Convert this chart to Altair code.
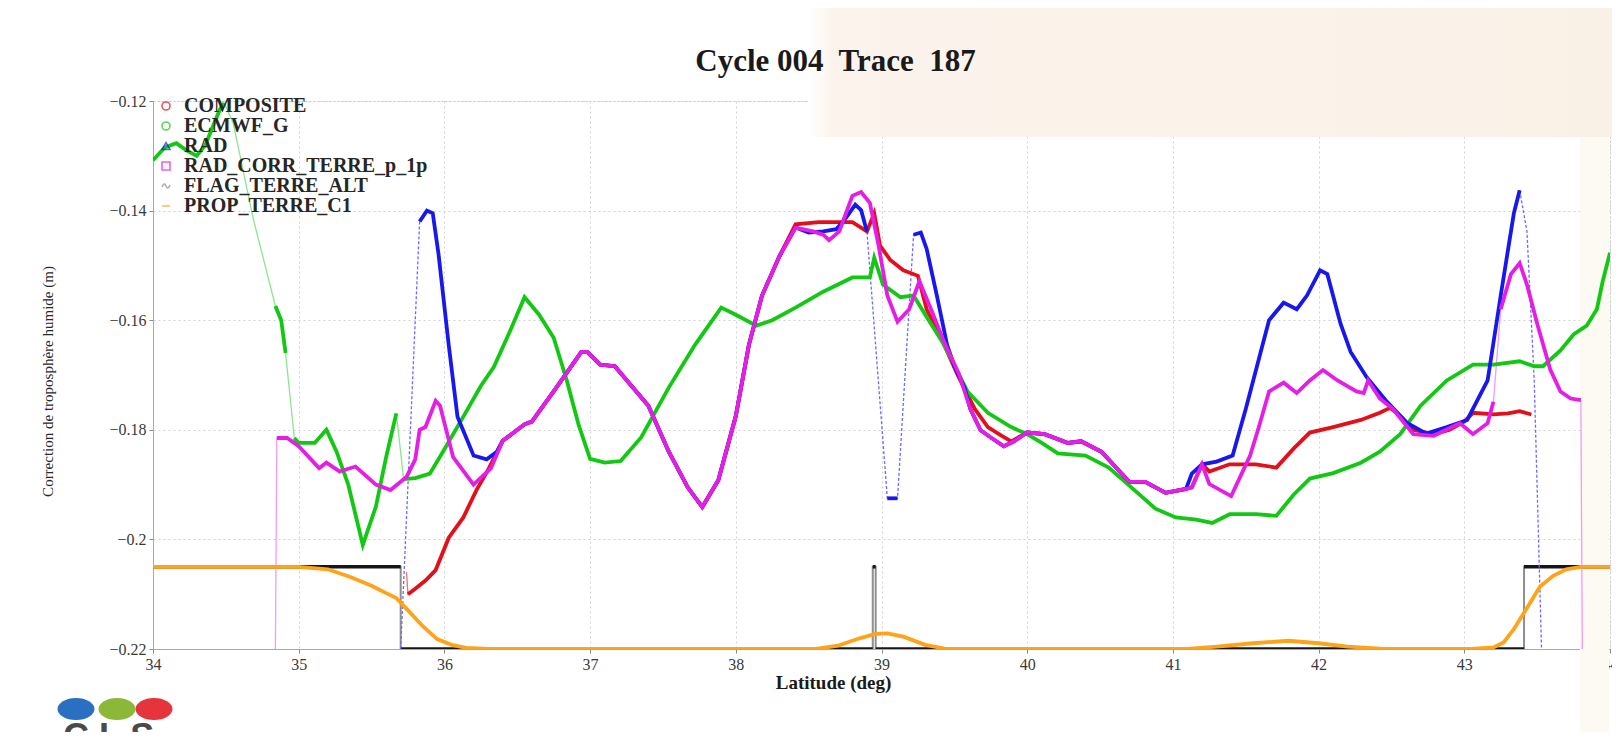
import altair as alt
import pandas as pd

TITLE = "Cycle 004\u00a0 Trace\u00a0 187"
X_TITLE = "Latitude (deg)"
Y_TITLE = "Correction de troposphère humide (m)"
SERIES = ["COMPOSITE", "ECMWF_G", "RAD", "RAD_CORR_TERRE_p_1p", "FLAG_TERRE_ALT", "PROP_TERRE_C1"]
COLORS = ["#e3101c", "#12c812", "#1818ee", "#e41ee4", "#8c8c8c", "#ffa31a"]
THIN = {"COMPOSITE": "#f07070", "ECMWF_G": "#8fe48f", "RAD": "#6a6aff", "RAD_CORR_TERRE_p_1p": "#f59af5"}
SHAPES = ["circle", "circle", "triangle-up", "square",
          "M-1,0.25 C-0.6,-0.7 -0.3,-0.7 0,0 C0.3,0.7 0.6,0.7 1,-0.25", "stroke"]
X_TICKS = list(range(34, 45))
Y_TICKS = [-0.22, -0.20, -0.18, -0.16, -0.14, -0.12]

# (latitude, value in m)
COMPOSITE = [(35.74, -0.2060), (35.75, -0.2100), (35.80, -0.2090), (35.87, -0.2075), (35.94, -0.2056),
             (36.03, -0.1997), (36.13, -0.1960), (36.22, -0.1910), (36.30, -0.1873), (36.40, -0.1820),
             (36.55, -0.1790), (36.60, -0.1785), (36.75, -0.1730), (36.94, -0.1658), (36.98, -0.1658),
             (37.07, -0.1681), (37.17, -0.1684), (37.40, -0.1756), (37.54, -0.1840), (37.67, -0.1905),
             (37.77, -0.1941), (37.88, -0.1892), (38.00, -0.1775), (38.09, -0.1645), (38.18, -0.1555),
             (38.30, -0.1483), (38.41, -0.1425), (38.57, -0.1421), (38.80, -0.1421), (38.90, -0.1438),
             (38.95, -0.1405), (38.99, -0.1464), (39.06, -0.1490), (39.15, -0.1509), (39.25, -0.1519),
             (39.31, -0.1580), (39.43, -0.1645), (39.53, -0.1704), (39.64, -0.1762), (39.73, -0.1795),
             (39.82, -0.1810), (39.89, -0.1821), (40.00, -0.1805), (40.12, -0.1808), (40.28, -0.1824),
             (40.37, -0.1821), (40.51, -0.1840), (40.60, -0.1866), (40.70, -0.1895), (40.81, -0.1895),
             (40.95, -0.1915), (41.09, -0.1908), (41.13, -0.1905), (41.20, -0.1863), (41.25, -0.1876),
             (41.39, -0.1863), (41.57, -0.1863), (41.71, -0.1869), (41.83, -0.1834), (41.94, -0.1805),
             (42.10, -0.1795), (42.29, -0.1782), (42.42, -0.1769), (42.49, -0.1760), (42.56, -0.1775),
             (42.65, -0.1800), (42.79, -0.1808), (42.90, -0.1800), (43.00, -0.1785), (43.06, -0.1769),
             (43.20, -0.1772), (43.30, -0.1770), (43.38, -0.1766), (43.46, -0.1772)]
COMPOSITE_THIN = [35.74]

ECMWF_G = [(34.00, -0.1308), (34.08, -0.1285), (34.16, -0.1277), (34.23, -0.1290), (34.30, -0.1300),
           (34.36, -0.1280), (34.41, -0.1247), (34.46, -0.1215), (34.49, -0.1204), (34.55, -0.1240),
           (34.69, -0.1417), (34.84, -0.1574), (34.88, -0.1600), (34.91, -0.1660), (34.97, -0.1815),
           (35.00, -0.1824), (35.11, -0.1824), (35.19, -0.1800), (35.26, -0.1840), (35.34, -0.1900),
           (35.44, -0.2010), (35.53, -0.1940), (35.60, -0.1850), (35.67, -0.1770), (35.72, -0.1890),
           (35.80, -0.1888), (35.90, -0.1880), (35.99, -0.1840), (36.13, -0.1776), (36.25, -0.1720),
           (36.34, -0.1685), (36.45, -0.1620), (36.55, -0.1558), (36.65, -0.1590), (36.75, -0.1632),
           (36.84, -0.1710), (36.92, -0.1790), (37.00, -0.1853), (37.10, -0.1860), (37.21, -0.1857),
           (37.35, -0.1814), (37.54, -0.1723), (37.72, -0.1645), (37.90, -0.1577), (38.00, -0.1590),
           (38.14, -0.1610), (38.25, -0.1600), (38.41, -0.1577), (38.60, -0.1548), (38.80, -0.1522),
           (38.92, -0.1522), (38.95, -0.1486), (39.01, -0.1535), (39.13, -0.1558), (39.22, -0.1555),
           (39.31, -0.1594), (39.43, -0.1645), (39.59, -0.1730), (39.73, -0.1769), (39.89, -0.1795),
           (40.00, -0.1808), (40.10, -0.1824), (40.21, -0.1843), (40.40, -0.1847), (40.56, -0.1869),
           (40.74, -0.1911), (40.88, -0.1944), (41.02, -0.1960), (41.16, -0.1964), (41.27, -0.1970),
           (41.39, -0.1954), (41.57, -0.1954), (41.71, -0.1957), (41.83, -0.1918), (41.94, -0.1889),
           (42.10, -0.1879), (42.29, -0.1860), (42.42, -0.1840), (42.56, -0.1808), (42.70, -0.1756),
           (42.88, -0.1710), (43.06, -0.1681), (43.20, -0.1681), (43.38, -0.1675), (43.48, -0.1684),
           (43.54, -0.1684), (43.66, -0.1655), (43.75, -0.1626), (43.84, -0.1610), (43.91, -0.1580),
           (43.95, -0.1529), (44.00, -0.1477)]
ECMWF_G_THIN = [34.49, 34.55, 34.69, 34.91, 35.67]

RAD = [(35.70, -0.2200), (35.83, -0.1420), (35.88, -0.1400), (35.92, -0.1405), (35.96, -0.1480),
       (36.03, -0.1646), (36.09, -0.1776), (36.20, -0.1847), (36.29, -0.1854), (36.36, -0.1840),
       (36.40, -0.1820), (36.55, -0.1790), (36.60, -0.1785), (36.75, -0.1730), (36.94, -0.1658),
       (36.98, -0.1658), (37.07, -0.1681), (37.17, -0.1684), (37.40, -0.1756), (37.54, -0.1840),
       (37.67, -0.1905), (37.77, -0.1941), (37.88, -0.1892), (38.00, -0.1775), (38.09, -0.1645),
       (38.18, -0.1555), (38.30, -0.1483), (38.41, -0.1431), (38.50, -0.1440), (38.60, -0.1438),
       (38.69, -0.1434), (38.76, -0.1412), (38.82, -0.1389), (38.86, -0.1399), (38.90, -0.1438),
       (39.04, -0.1925), (39.11, -0.1925), (39.22, -0.1444), (39.27, -0.1440), (39.31, -0.1470),
       (39.38, -0.1555), (39.45, -0.1645), (39.50, -0.1684), (39.57, -0.1723), (39.61, -0.1762),
       (39.68, -0.1801), (39.75, -0.1814), (39.84, -0.1830), (39.91, -0.1821), (40.00, -0.1805),
       (40.12, -0.1808), (40.28, -0.1824), (40.37, -0.1821), (40.51, -0.1840), (40.60, -0.1866),
       (40.70, -0.1895), (40.81, -0.1895), (40.95, -0.1915), (41.09, -0.1908), (41.13, -0.1880),
       (41.20, -0.1863), (41.30, -0.1858), (41.41, -0.1847), (41.50, -0.1762), (41.59, -0.1671),
       (41.66, -0.1600), (41.76, -0.1568), (41.85, -0.1580), (41.92, -0.1555), (42.01, -0.1509),
       (42.06, -0.1516), (42.15, -0.1606), (42.22, -0.1658), (42.33, -0.1704), (42.47, -0.1749),
       (42.61, -0.1788), (42.74, -0.1807), (42.88, -0.1795), (43.02, -0.1782), (43.16, -0.1710),
       (43.25, -0.1555), (43.34, -0.1405), (43.38, -0.1363), (43.43, -0.1438), (43.48, -0.1710),
       (43.53, -0.2200)]
RAD_THIN = [35.70, 38.90, 39.11, 43.38, 43.43, 43.48]

RAD_CORR = [(34.84, -0.2200), (34.85, -0.1815), (34.92, -0.1815), (35.00, -0.1830), (35.14, -0.1870),
            (35.19, -0.1860), (35.28, -0.1876), (35.39, -0.1867), (35.53, -0.1900), (35.63, -0.1910),
            (35.74, -0.1886), (35.80, -0.1854), (35.83, -0.1800), (35.87, -0.1795), (35.94, -0.1747),
            (35.97, -0.1756), (36.06, -0.1850), (36.20, -0.1900), (36.32, -0.1870), (36.40, -0.1820),
            (36.55, -0.1790), (36.60, -0.1785), (36.75, -0.1730), (36.94, -0.1658), (36.98, -0.1658),
            (37.07, -0.1681), (37.17, -0.1684), (37.40, -0.1756), (37.54, -0.1840), (37.67, -0.1905),
            (37.77, -0.1941), (37.88, -0.1892), (38.00, -0.1775), (38.09, -0.1645), (38.18, -0.1555),
            (38.30, -0.1483), (38.41, -0.1431), (38.53, -0.1438), (38.60, -0.1444), (38.64, -0.1454),
            (38.71, -0.1438), (38.80, -0.1373), (38.86, -0.1366), (38.92, -0.1386), (38.98, -0.1464),
            (39.04, -0.1555), (39.11, -0.1603), (39.19, -0.1580), (39.26, -0.1529), (39.34, -0.1580),
            (39.43, -0.1640), (39.53, -0.1697), (39.61, -0.1762), (39.68, -0.1801), (39.75, -0.1814),
            (39.84, -0.1830), (39.91, -0.1821), (40.00, -0.1805), (40.12, -0.1808), (40.28, -0.1824),
            (40.37, -0.1821), (40.51, -0.1840), (40.60, -0.1866), (40.70, -0.1895), (40.81, -0.1895),
            (40.95, -0.1915), (41.09, -0.1908), (41.13, -0.1905), (41.20, -0.1863), (41.25, -0.1899),
            (41.40, -0.1921), (41.53, -0.1847), (41.59, -0.1795), (41.66, -0.1730), (41.76, -0.1714),
            (41.85, -0.1733), (41.94, -0.1710), (42.03, -0.1691), (42.13, -0.1710), (42.26, -0.1730),
            (42.31, -0.1733), (42.34, -0.1710), (42.42, -0.1743), (42.51, -0.1762), (42.65, -0.1808),
            (42.79, -0.1811), (42.97, -0.1788), (43.06, -0.1808), (43.16, -0.1788), (43.20, -0.1749),
            (43.25, -0.1580), (43.32, -0.1516), (43.38, -0.1496), (43.43, -0.1535), (43.50, -0.1606),
            (43.59, -0.1690), (43.66, -0.1730), (43.73, -0.1743), (43.80, -0.1746), (43.81, -0.2200)]
RAD_CORR_THIN = [34.84, 43.20, 43.80]

# land flag (1 = land) : latitude where the state starts
FLAG_TERRE_ALT = [(34.00, 1), (35.70, 0), (38.94, 1), (38.96, 0), (43.41, 1), (44.00, 1)]
# land proportion 0..1
PROP_TERRE_C1 = [(34.00, 1.0), (34.60, 1.0), (35.00, 1.0), (35.20, 0.97), (35.35, 0.88), (35.50, 0.77),
                 (35.60, 0.68), (35.67, 0.62), (35.75, 0.47), (35.85, 0.28), (35.95, 0.12), (36.05, 0.05),
                 (36.15, 0.013), (36.30, 0.0), (38.55, 0.0), (38.70, 0.04), (38.85, 0.13), (38.95, 0.18),
                 (39.04, 0.19), (39.15, 0.15), (39.30, 0.05), (39.45, 0.0), (41.10, 0.0), (41.30, 0.03),
                 (41.55, 0.07), (41.79, 0.10), (42.00, 0.07), (42.20, 0.03), (42.45, 0.0), (43.05, 0.0),
                 (43.20, 0.02), (43.27, 0.08), (43.34, 0.24), (43.43, 0.50), (43.52, 0.76), (43.61, 0.89),
                 (43.70, 0.97), (43.80, 1.0), (44.00, 1.0)]
FLAG_BASE, FLAG_SPAN = -0.22, 0.015


def frame(name, pts, thin_after):
    rows, seg = [], 0
    for la, v in pts:
        rows.append({"series": name, "lat": la, "val": v, "seg": seg})
        if la in thin_after:
            seg += 1
    return pd.DataFrame(rows)


W, H = 1457, 548
xs = alt.Scale(domain=[34, 44], nice=False, zero=False)
ys = alt.Scale(domain=[-0.22, -0.12], nice=False, zero=False)
x_axis = alt.Axis(values=X_TICKS, format="d", title=X_TITLE, labelFlush=False, labelOverlap=False,
                  titleX=680, titleY=33, titleBaseline="middle", titleFontSize=19, titleFontWeight="bold",
                  titleFont="Liberation Serif", titleColor="#1a1a1a")
y_axis = alt.Axis(values=Y_TICKS, format=".2~f", title=Y_TITLE, labelFlush=False, labelOverlap=False,
                  titleX=-106, titleY=280, titleBaseline="middle", titleAngle=-90, titleFontSize=15,
                  titleFontWeight="normal", titleFont="Liberation Serif", titleColor="#2a2a2a")


def X(field="lat"):
    return alt.X(f"{field}:Q", scale=xs, axis=x_axis)


def Y(field="val"):
    return alt.Y(f"{field}:Q", scale=ys, axis=y_axis)


one = pd.DataFrame({"k": [0]})
layers = []

# slide background decorations
peach = alt.LinearGradient(gradient="linear", x1=0, x2=1, y1=0, y2=0,
                           stops=[alt.GradientStop(color="#ffffff", offset=0),
                                  alt.GradientStop(color="#fcf4ec", offset=0.03),
                                  alt.GradientStop(color="#f9f0e6", offset=1)])
layers.append(alt.Chart(one).mark_rect(color=peach).encode(
    x=alt.value(655), x2=alt.value(1467), y=alt.value(-93), y2=alt.value(36)))
layers.append(alt.Chart(one).mark_rect(color="#fdfaf3").encode(
    x=alt.value(1427), x2=alt.value(1456), y=alt.value(36), y2=alt.value(640)))
layers.append(alt.Chart(one).mark_rect(color="#fdfaf3").encode(
    x=alt.value(1459), x2=alt.value(1467), y=alt.value(36), y2=alt.value(640)))

# flag
flag_df = pd.DataFrame(FLAG_TERRE_ALT, columns=["lat", "state"])
flag_df["val"] = FLAG_BASE + FLAG_SPAN * flag_df["state"]
seg_df = pd.DataFrame({"lat": flag_df["lat"][:-1].values, "lat2": flag_df["lat"][1:].values,
                       "val": flag_df["val"][:-1].values})
layers.append(alt.Chart(flag_df).mark_line(interpolate="step-after", color="#8f8f8f", strokeWidth=2,
                                           clip=True).encode(x=X(), y=Y()))
layers.append(alt.Chart(seg_df).mark_rule(color="#161616", strokeWidth=3.5, clip=True).encode(
    x=X(), x2="lat2:Q", y=Y()))

frames = [frame("COMPOSITE", COMPOSITE, COMPOSITE_THIN),
          frame("ECMWF_G", ECMWF_G, ECMWF_G_THIN),
          frame("RAD", RAD, RAD_THIN),
          frame("RAD_CORR_TERRE_p_1p", RAD_CORR, RAD_CORR_THIN)]

for df in frames:
    name = df["series"].iloc[0]
    kw = {"strokeDash": [3, 2]} if name == "RAD" else {}
    layers.append(alt.Chart(df).mark_line(color=THIN[name], strokeWidth=1.3, clip=True, **kw).encode(
        x=X(), y=Y(), order="lat:Q"))

for df, col in zip(frames, COLORS[:4]):
    layers.append(alt.Chart(df).mark_line(color=col, strokeWidth=3.8, clip=True).encode(
        x=X(), y=Y(), detail="seg:N", order="lat:Q"))

prop_df = pd.DataFrame(PROP_TERRE_C1, columns=["lat", "prop"])
prop_df["val"] = FLAG_BASE + FLAG_SPAN * prop_df["prop"]
layers.append(alt.Chart(prop_df).mark_line(color=COLORS[5], strokeWidth=3.8, clip=True).encode(
    x=X(), y=Y(), order="lat:Q"))

# legend (symbols only)
leg = dict(title=None, orient="none", legendX=3, legendY=-5, labelFont="Liberation Serif",
           labelFontSize=20, labelFontWeight="bold", labelColor="#262626", labelLimit=0, symbolSize=64,
           symbolStrokeWidth=1.6, symbolOpacity=0.7, labelOffset=8, rowPadding=0, padding=0)
legend_df = pd.DataFrame({"series": SERIES, "lat": [34.0] * 6, "val": [-0.2] * 6})
layers.append(alt.Chart(legend_df).mark_point(filled=False).encode(
    x=X(), y=Y(),
    color=alt.Color("series:N", scale=alt.Scale(domain=SERIES, range=COLORS), legend=alt.Legend(**leg)),
    shape=alt.Shape("series:N", scale=alt.Scale(domain=SERIES, range=SHAPES), legend=alt.Legend(**leg)),
).transform_filter("false"))

# CLS logo
ellipse = "M-1,0 A1,0.6 0 1,1 1,0 A1,0.6 0 1,1 -1,0 Z"
for xv, c in [(-77, "#2b6fc2"), (-36, "#8cb83a"), (1, "#e5343c")]:
    layers.append(alt.Chart(one).mark_point(shape=ellipse, filled=True, size=1369, color=c,
                                            opacity=1).encode(x=alt.value(xv), y=alt.value(608)))
layers.append(alt.Chart(one).mark_text(text="C  L  S", font="Liberation Sans", fontSize=36,
                                       fontWeight="bold", color="#4a4a4a", align="left",
                                       baseline="alphabetic").encode(x=alt.value(-90), y=alt.value(648)))

chart = alt.layer(*layers).properties(
    width=W, height=H,
    autosize=alt.AutoSizeParams(type="none"),
    padding={"left": 145, "top": 93, "right": 2, "bottom": 83},
    title=alt.TitleParams(TITLE, font="Liberation Serif", fontSize=31, fontWeight="bold",
                          color="#1a1a1a", anchor="middle", frame="group", offset=0, dx=-46, dy=101,
                          baseline="bottom"),
).configure(background="white").configure_view(
    stroke="#c4c4c4", strokeWidth=1, strokeDash=[2, 2]
).configure_axis(
    domainColor="#a8a8a8", gridColor="#d2d2d2", gridDash=[2, 3], tickColor="#888888", tickSize=4,
    labelFont="Liberation Serif", labelFontSize=16, labelColor="#3a3a3a", labelPadding=3, grid=True
)

chart.save("out.html", embed_options={"renderer": "svg", "actions": False})
